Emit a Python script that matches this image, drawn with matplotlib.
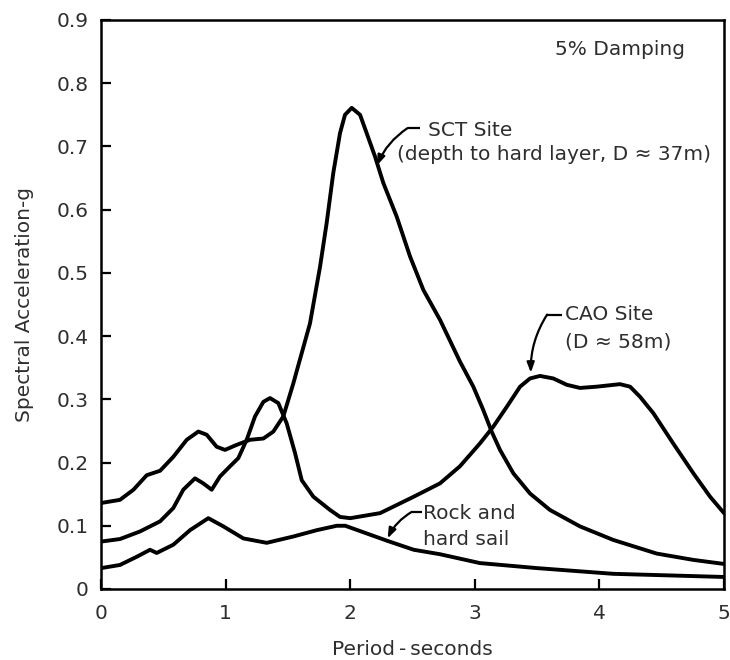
import matplotlib
matplotlib.use("Agg")
import matplotlib.pyplot as plt

plt.rcParams['font.family'] = ['DejaVu Sans']

# Response spectra (5% damping): period in seconds vs spectral acceleration in g
sct_period = [0, 0.152, 0.26, 0.367, 0.474, 0.58, 0.688, 0.781, 0.848, 0.928, 0.995, 1.089,
              1.196, 1.303, 1.383, 1.463, 1.543, 1.571, 1.677, 1.758, 1.811, 1.864, 1.918, 1.958,
              2.012, 2.079, 2.132, 2.199, 2.266, 2.373, 2.48, 2.587, 2.72, 2.88, 2.988, 3.068,
              3.135, 3.202, 3.309, 3.443, 3.603, 3.844, 4.112, 4.46, 4.754, 5.0]
sct_accel = [0.136, 0.141, 0.157, 0.18, 0.187, 0.209, 0.236, 0.249, 0.244, 0.225, 0.22, 0.228,
             0.236, 0.238, 0.249, 0.273, 0.325, 0.345, 0.42, 0.51, 0.579, 0.658, 0.721, 0.75,
             0.761, 0.75, 0.721, 0.684, 0.642, 0.589, 0.526, 0.473, 0.426, 0.36, 0.32, 0.283,
             0.249, 0.22, 0.183, 0.151, 0.125, 0.099, 0.0775, 0.056, 0.046, 0.0396]

cao_period = [0, 0.152, 0.313, 0.474, 0.58, 0.66, 0.754, 0.821, 0.888, 0.955, 1.035, 1.102,
              1.169, 1.236, 1.303, 1.356, 1.423, 1.49, 1.557, 1.611, 1.704, 1.838, 1.918, 2.0,
              2.24, 2.51, 2.72, 2.88, 3.04, 3.149, 3.256, 3.363, 3.443, 3.523, 3.63, 3.738,
              3.844, 3.978, 4.165, 4.246, 4.326, 4.433, 4.593, 4.754, 4.888, 5.0]
cao_accel = [0.075, 0.079, 0.091, 0.107, 0.128, 0.157, 0.175, 0.167, 0.157, 0.178, 0.194, 0.207,
             0.236, 0.273, 0.296, 0.302, 0.294, 0.262, 0.215, 0.172, 0.146, 0.125, 0.114, 0.112,
             0.12, 0.146, 0.167, 0.194, 0.23, 0.257, 0.288, 0.32, 0.333, 0.337, 0.333, 0.323,
             0.318, 0.32, 0.324, 0.32, 0.304, 0.278, 0.23, 0.183, 0.146, 0.12]

rock_period = [0, 0.152, 0.287, 0.393, 0.447, 0.58, 0.714, 0.861, 0.982, 1.142, 1.33, 1.543,
               1.731, 1.892, 1.96, 2.13, 2.3, 2.51, 2.72, 3.04, 3.5, 4.11, 5.0]
rock_accel = [0.033, 0.038, 0.051, 0.062, 0.057, 0.07, 0.093, 0.112, 0.099, 0.08, 0.073, 0.083,
              0.093, 0.1, 0.1, 0.088, 0.076, 0.062, 0.055, 0.041, 0.033, 0.024, 0.019]

x_ticks = [0, 1, 2, 3, 4, 5]
y_ticks = [0, 0.1, 0.2, 0.3, 0.4, 0.5, 0.6, 0.7, 0.8, 0.9]
y_tick_labels = ["0", "0.1", "0.2", "0.3", "0.4", "0.5", "0.6", "0.7", "0.8", "0.9"]

TEXT = "#2e2e2e"
FS = 14.5

fig = plt.figure(figsize=(7.3, 6.6), dpi=100)
ax = fig.add_axes([0.1384, 0.1076, 0.8534, 0.8621])

line_kw = dict(color="black", lw=2.8, solid_joinstyle="round", solid_capstyle="round")
ax.plot(sct_period, sct_accel, **line_kw)
ax.plot(cao_period, cao_accel, **line_kw)
ax.plot(rock_period, rock_accel, **line_kw)

ax.set_xlim(0, 5)
ax.set_ylim(0, 0.9)
ax.set_xticks(x_ticks)
ax.set_xticklabels([str(t) for t in x_ticks])
ax.set_yticks(y_ticks)
ax.set_yticklabels(y_tick_labels)
ax.tick_params(direction="in", length=7, width=1.6, labelsize=FS, labelcolor=TEXT)
ax.tick_params(axis="x", pad=11)
ax.tick_params(axis="y", pad=9)
for s in ax.spines.values():
    s.set_linewidth(1.8)

ax.set_xlabel("Period\u2009-\u2009seconds", fontsize=FS, color=TEXT, labelpad=12)
ax.set_ylabel("Spectral Acceleration-g", fontsize=FS, color=TEXT, labelpad=16)

ax.text(4.69, 0.853, "5% Damping", ha="right", va="center", fontsize=FS, color=TEXT)


def leader(elbow_start, elbow_end, tip):
    ax.plot([elbow_start[0], elbow_end[0]], [elbow_start[1], elbow_end[1]],
            color="black", lw=1.6, solid_capstyle="butt")
    ax.annotate("", xy=tip, xytext=elbow_end,
                arrowprops=dict(arrowstyle="-|>,head_length=0.6,head_width=0.22",
                                color="black", lw=1.6, shrinkA=0, shrinkB=0,
                                connectionstyle="arc3,rad=0.15"))


# SCT site label
ax.text(2.624, 0.726, "SCT Site", ha="left", va="center", fontsize=FS, color=TEXT)
ax.text(2.375, 0.687, "(depth to hard layer, D \u2248 37m)", ha="left", va="center",
        fontsize=FS, color=TEXT)
leader((2.56, 0.729), (2.46, 0.729), (2.215, 0.67))

# CAO site label
ax.text(3.72, 0.434, "CAO Site", ha="left", va="center", fontsize=FS, color=TEXT)
ax.text(3.72, 0.39, "(D \u2248 58m)", ha="left", va="center", fontsize=FS, color=TEXT)
leader((3.70, 0.434), (3.58, 0.434), (3.45, 0.342))

# Rock label
ax.text(2.584, 0.120, "Rock and", ha="left", va="center", fontsize=FS, color=TEXT)
ax.text(2.584, 0.079, "hard sail", ha="left", va="center", fontsize=FS, color=TEXT)
leader((2.574, 0.122), (2.494, 0.122), (2.30, 0.08))

fig.savefig("out.png", dpi=100)
